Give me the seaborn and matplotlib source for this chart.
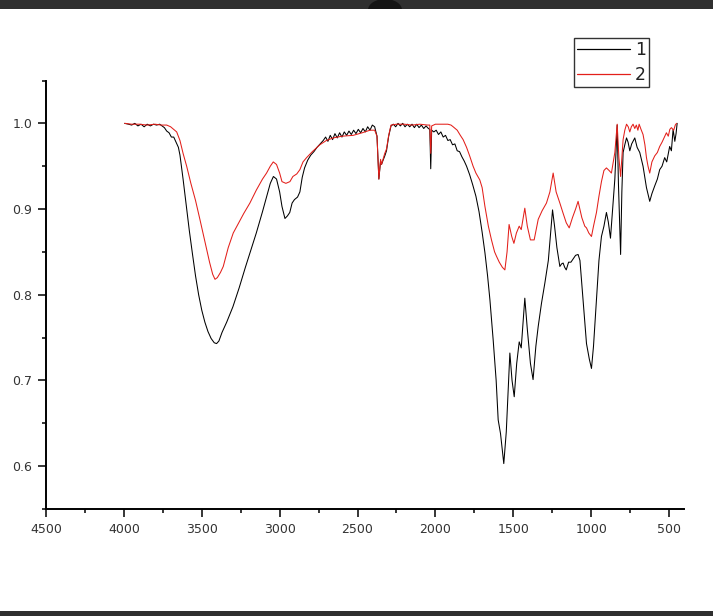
import numpy as np
import pandas as pd
import matplotlib
matplotlib.use("Agg")
import matplotlib.pyplot as plt
import seaborn as sns
from matplotlib.lines import Line2D
from matplotlib.patches import Rectangle, Ellipse

# ---------------- data ----------------
wn_1 = [3995, 3970, 3950, 3930, 3910, 3890, 3870, 3850, 3830, 3810, 3790, 3770, 3755, 3740,
        3725, 3710, 3695, 3680, 3665, 3650, 3640, 3620, 3600, 3580, 3560, 3540, 3520, 3500,
        3480, 3460, 3440, 3420, 3405, 3390, 3370, 3340, 3300, 3260, 3220, 3190, 3150, 3110,
        3080, 3060, 3040, 3020, 3000, 2985, 2966, 2950, 2935, 2920, 2905, 2885, 2870, 2855,
        2840, 2820, 2800, 2780, 2760, 2740, 2720, 2705, 2690, 2675, 2660, 2645, 2630, 2615,
        2600, 2585, 2570, 2555, 2540, 2525, 2510, 2495, 2480, 2465, 2450, 2435, 2420, 2405,
        2390, 2375, 2363, 2352, 2346, 2338, 2325, 2314, 2300, 2285, 2270, 2255, 2240, 2225,
        2210, 2195, 2180, 2165, 2150, 2135, 2120, 2105, 2090, 2075, 2060, 2045, 2036, 2030,
        2024, 2010, 1995, 1980, 1965, 1950, 1935, 1920, 1905, 1890, 1875, 1860, 1845, 1830,
        1815, 1800, 1780, 1760, 1740, 1720, 1700, 1682, 1665, 1650, 1629, 1610, 1597, 1582,
        1561, 1545, 1522, 1508, 1494, 1478, 1462, 1449, 1426, 1410, 1390, 1373, 1355, 1340,
        1319, 1297, 1275, 1248, 1235, 1220, 1201, 1190, 1180, 1170, 1160, 1145, 1130, 1115,
        1100, 1084, 1072, 1050, 1030, 1012, 998, 985, 966, 950, 934, 918, 902, 890, 876, 860,
        848, 833, 825, 811, 803, 795, 784, 773, 763, 752, 740, 720, 705, 688, 680, 667, 645,
        624, 610, 592, 575, 560, 545, 528, 515, 496, 485, 474, 463, 455, 448]
val_1 = [1.000, 0.999, 0.998, 1.000, 0.997, 0.999, 0.996, 0.999, 0.997, 0.999, 0.998, 0.999, 0.997, 0.995,
         0.991, 0.989, 0.984, 0.984, 0.978, 0.972, 0.963, 0.935, 0.905, 0.875, 0.848, 0.822, 0.800, 0.782,
         0.768, 0.757, 0.749, 0.744, 0.743, 0.746, 0.756, 0.768, 0.786, 0.808, 0.832, 0.849, 0.872, 0.897,
         0.917, 0.930, 0.938, 0.935, 0.920, 0.903, 0.889, 0.892, 0.896, 0.907, 0.911, 0.914, 0.920, 0.937,
         0.948, 0.957, 0.963, 0.967, 0.972, 0.976, 0.980, 0.984, 0.979, 0.986, 0.981, 0.988, 0.983, 0.989,
         0.984, 0.990, 0.986, 0.991, 0.987, 0.992, 0.988, 0.993, 0.989, 0.994, 0.990, 0.996, 0.992, 0.998,
         0.996, 0.985, 0.935, 0.956, 0.952, 0.956, 0.962, 0.968, 0.985, 0.997, 0.999, 0.996, 1.000, 0.997,
         1.000, 0.996, 0.999, 0.996, 0.999, 0.995, 0.999, 0.995, 0.998, 0.994, 0.997, 0.994, 0.993, 0.947,
         0.992, 0.990, 0.992, 0.987, 0.990, 0.984, 0.986, 0.980, 0.981, 0.975, 0.976, 0.968, 0.967, 0.961,
         0.956, 0.950, 0.940, 0.928, 0.915, 0.897, 0.873, 0.849, 0.822, 0.794, 0.747, 0.700, 0.654, 0.638,
         0.603, 0.640, 0.732, 0.700, 0.681, 0.720, 0.745, 0.738, 0.796, 0.760, 0.720, 0.701, 0.740, 0.763,
         0.790, 0.814, 0.840, 0.899, 0.880, 0.855, 0.833, 0.836, 0.837, 0.832, 0.829, 0.838, 0.838, 0.842,
         0.846, 0.847, 0.840, 0.790, 0.743, 0.725, 0.714, 0.740, 0.794, 0.840, 0.868, 0.880, 0.896, 0.885, 0.866, 0.905,
         0.935, 0.998, 0.930, 0.847, 0.920, 0.966, 0.975, 0.983, 0.978, 0.968, 0.976, 0.983, 0.972, 0.966, 0.960, 0.950, 0.925,
         0.909, 0.918, 0.927, 0.935, 0.946, 0.950, 0.960, 0.955, 0.973, 0.968, 0.993, 0.979, 0.988, 1.000]

wn_2 = [3995, 3950, 3900, 3850, 3800, 3760, 3725, 3700, 3680, 3661, 3640, 3620, 3597, 3570,
        3540, 3512, 3480, 3450, 3430, 3415, 3400, 3380, 3362, 3330, 3298, 3260, 3230, 3191,
        3150, 3110, 3084, 3060, 3041, 3020, 3000, 2985, 2960, 2934, 2915, 2890, 2870, 2850,
        2827, 2790, 2742, 2700, 2656, 2600, 2528, 2470, 2420, 2390, 2375, 2363, 2352, 2346,
        2338, 2325, 2314, 2300, 2285, 2250, 2200, 2150, 2100, 2050, 2036, 2030, 2024, 2000,
        1950, 1920, 1900, 1886, 1860, 1840, 1822, 1800, 1780, 1758, 1740, 1715, 1700, 1682,
        1660, 1640, 1620, 1608, 1590, 1570, 1554, 1540, 1527, 1510, 1496, 1480, 1462, 1449,
        1426, 1410, 1390, 1366, 1340, 1315, 1287, 1265, 1244, 1225, 1201, 1180, 1160, 1141,
        1120, 1100, 1084, 1060, 1041, 1030, 1015, 998, 985, 966, 950, 934, 918, 902, 885, 870,
        858, 848, 833, 822, 811, 803, 795, 784, 773, 762, 752, 742, 731, 720, 710, 700, 692,
        680, 667, 655, 645, 635, 624, 610, 592, 575, 560, 545, 530, 517, 505, 495, 485, 470,
        460, 452]
val_2 = [1.000, 0.999, 0.999, 0.998, 0.999, 0.998, 0.998, 0.996, 0.993, 0.990, 0.980, 0.965, 0.950, 0.930,
         0.910, 0.888, 0.862, 0.838, 0.824, 0.818, 0.820, 0.826, 0.833, 0.855, 0.872, 0.885, 0.895, 0.907,
         0.922, 0.935, 0.942, 0.950, 0.955, 0.952, 0.942, 0.932, 0.930, 0.932, 0.938, 0.941, 0.946, 0.955,
         0.960, 0.967, 0.975, 0.980, 0.983, 0.985, 0.986, 0.989, 0.992, 0.992, 0.985, 0.935, 0.958, 0.952,
         0.957, 0.965, 0.970, 0.986, 0.998, 0.999, 0.999, 0.998, 0.999, 0.998, 0.998, 0.965, 0.997, 0.999,
         0.999, 0.999, 0.998, 0.996, 0.992, 0.986, 0.981, 0.972, 0.962, 0.950, 0.942, 0.934, 0.925, 0.903,
         0.880, 0.864, 0.850, 0.845, 0.838, 0.832, 0.829, 0.850, 0.882, 0.868, 0.860, 0.872, 0.880, 0.876,
         0.901, 0.880, 0.864, 0.864, 0.888, 0.898, 0.907, 0.920, 0.942, 0.920, 0.907, 0.895, 0.884, 0.878,
         0.890, 0.900, 0.909, 0.890, 0.880, 0.878, 0.872, 0.868, 0.880, 0.896, 0.915, 0.932, 0.945, 0.948, 0.945, 0.942,
         0.955, 0.966, 0.999, 0.960, 0.938, 0.960, 0.981, 0.992, 0.999, 0.996, 0.990, 0.996, 0.999, 0.994, 0.998, 0.992, 0.999,
         0.993, 0.987, 0.975, 0.960, 0.950, 0.942, 0.955, 0.962, 0.966, 0.973, 0.978, 0.984, 0.989, 0.985, 0.993, 0.995, 0.992,
         0.998, 1.000]

series_labels = ["1", "2"]
series_colors = ["black", "#e31f1a"]
x_ticks = [4500, 4000, 3500, 3000, 2500, 2000, 1500, 1000, 500]
y_ticks = [0.6, 0.7, 0.8, 0.9, 1.0]

df = pd.concat([
    pd.DataFrame({"wn": wn_1, "val": val_1, "series": series_labels[0]}),
    pd.DataFrame({"wn": wn_2, "val": val_2, "series": series_labels[1]}),
], ignore_index=True)

# ---------------- figure ----------------
sns.set_theme(style="ticks")
plt.rcParams["font.family"] = ["DejaVu Sans"]

W, H = 713, 616
fig = plt.figure(figsize=(W / 100, H / 100), dpi=100)
ax = fig.add_axes([46 / W, 1 - 509 / H, (684 - 46) / W, (509 - 80.5) / H])

sns.lineplot(data=df, x="wn", y="val", hue="series", palette=dict(zip(series_labels, series_colors)),
             estimator=None, sort=False, linewidth=0.75, ax=ax, legend=False)

ax.set_xlim(4500, 404)
ax.set_ylim(0.55, 1.05)
ax.set_xticks(x_ticks)
ax.set_xticklabels([str(t) for t in x_ticks])
ax.set_yticks(y_ticks)
ax.set_yticklabels([f"{t:.1f}" for t in y_ticks])
ax.set_xticks(np.arange(4250, 400, -500), minor=True)
ax.set_yticks([0.55, 0.65, 0.75, 0.85, 0.95, 1.05], minor=True)
ax.set_xlabel("")
ax.set_ylabel("")
for s in ["top", "right"]:
    ax.spines[s].set_visible(False)
for s in ["left", "bottom"]:
    ax.spines[s].set_linewidth(1.4)
    ax.spines[s].set_color("black")
ax.tick_params(axis="both", which="major", direction="out", length=6, width=1.1,
               labelsize=9, labelcolor="#333333", color="black")
ax.tick_params(axis="both", which="minor", direction="out", length=3, width=1.1, color="black")
ax.tick_params(axis="x", which="major", pad=4)
ax.tick_params(axis="y", which="major", pad=4)
ax.set_facecolor("white")

handles = [Line2D([0], [0], color=c, lw=0.9) for c in series_colors]
leg = fig.legend(handles, series_labels, loc="upper left", bbox_to_anchor=(574 / W, 1 - 37.5 / H),
                 frameon=True, fancybox=False, edgecolor="#333333", fontsize=12.5,
                 handlelength=3.0, handletextpad=0.3, borderpad=0.2, borderaxespad=0,
                 labelspacing=0.4, framealpha=1)
leg.get_frame().set_linewidth(1.0)
for t in leg.get_texts():
    t.set_color("#222222")

# screenshot chrome (dark bars at top and bottom)
top_bar = Rectangle((0, 1 - 9 / H), 1, 9 / H, transform=fig.transFigure,
                    facecolor="#2f2f2f", edgecolor="none")
fig.add_artist(top_bar)
fig.add_artist(Rectangle((0, 0), 1, 5 / H, transform=fig.transFigure,
                         facecolor="#2f2f2f", edgecolor="none"))
dome = Ellipse((385 / W, 1 - 10 / H), 34 / W, 22 / H, transform=fig.transFigure,
               facecolor="#141414", edgecolor="none")
fig.add_artist(dome)
dome.set_clip_path(top_bar)

fig.savefig("out.png", dpi=100, facecolor="white")
